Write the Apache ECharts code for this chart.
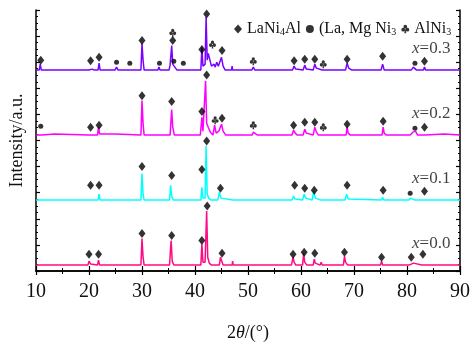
<!DOCTYPE html>
<html><head><meta charset="utf-8">
<script src="https://cdn.jsdelivr.net/npm/echarts@6/dist/echarts.min.js"></script>
<style>html,body{margin:0;padding:0;background:#fff}#c{width:473px;height:347px}</style>
</head><body><div id="c"></div>
<script>
// sample labels, vertical stacking offsets (a.u.), colours
const sampleLabels = ['0.3', '0.2', '0.1', '0.0'];
const offsets = [204, 138, 72, 6];
const colors = ['#7a00ff', '#ff00ff', '#00ffff', '#ff0a84'];

// XRD traces: [2theta, intensity above own baseline]
const trace03 = [[10,0],[10.6,0],[10.8,6],[11.0,0],[20.0,0],[20.3,2],[20.6,1],[21.0,0],[21.7,0],[21.9,7],[22.1,0],[24.9,0],[25.2,3],[25.5,0],[27.4,0],[27.6,2],[27.8,0],[29.8,0],[30.0,27],[30.2,10],[30.4,0],[33.0,0],[33.2,3],[33.4,0],[35.1,0],[35.3,5],[35.6,25],[35.8,6],[36.2,3],[36.6,0],[41.1,0],[41.3,23],[41.5,4],[41.9,6],[42.1,54],[42.3,10],[42.5,17],[42.8,15],[43.1,4],[43.6,6],[43.8,3],[44.1,8],[44.4,4],[44.7,6],[45.0,13],[45.3,4],[45.7,0],[46.9,0],[47.0,4],[47.1,0],[50.7,0],[51.0,3],[51.3,0],[58.4,0],[58.7,4],[59.0,1],[59.3,0],[60.4,0],[60.7,5],[61.0,1],[61.3,0],[62.3,0],[62.6,6],[62.9,2],[63.2,0],[64.0,0],[64.3,2],[64.6,0],[68.4,0],[68.7,7],[69.0,2],[69.3,3],[69.6,0],[75.1,0],[75.4,6],[75.7,0],[76.5,0],[76.7,2],[76.9,0],[80.8,0],[81.2,3],[81.5,4],[81.8,0],[83.1,0],[83.3,3],[83.5,0],[90,0]];
const trace02 = [[10,0],[10.7,0],[10.9,2],[11.1,0],[13.5,1],[13.7,0],[19.9,0],[20.1,2],[20.3,0],[21.6,0],[21.8,8],[22.0,1],[22.3,0],[25.0,1],[25.2,0],[29.8,0],[30.0,35],[30.2,12],[30.4,0],[35.3,0],[35.6,26],[35.8,8],[36.1,0],[41.0,0],[41.3,18],[41.5,4],[41.8,4],[42.0,55],[42.2,12],[42.5,8],[42.9,3],[43.4,0],[43.7,10],[44.0,2],[44.5,4],[45.0,11],[45.3,4],[45.8,0],[50.8,0],[51.0,3],[51.3,1],[51.8,0],[58.3,0],[58.6,5],[58.9,2],[59.3,0],[60.4,0],[60.7,6],[61.0,2],[61.3,0],[62.3,0],[62.6,8],[62.9,3],[63.3,0],[63.9,0],[64.1,2],[64.3,0],[68.5,0],[68.7,8],[68.9,2],[69.3,0],[75.3,0],[75.5,8],[75.7,2],[76.1,0],[80.6,0],[81.1,3],[81.6,4],[82.0,0],[83.1,0],[83.3,2],[83.5,0],[87.0,1],[87.2,0],[90,0]];
const trace01 = [[10,0],[19.9,0],[20.1,2],[20.3,0],[21.7,0],[21.9,6],[22.1,0],[29.8,0],[30.0,27],[30.2,6],[30.4,0],[35.2,0],[35.4,15],[35.6,4],[35.9,0],[41.1,0],[41.3,13],[41.5,2],[41.9,2],[42.1,55],[42.3,6],[42.6,2],[43.0,0],[44.3,0],[44.6,8],[44.9,2],[45.2,0],[47.1,0],[47.3,2],[47.5,0],[58.3,0],[58.6,4],[58.9,1],[59.2,0],[60.3,0],[60.6,6],[60.9,2],[61.2,0],[62.1,0],[62.4,9],[62.7,2],[63.0,0],[63.8,0],[64.0,2],[64.2,0],[68.3,0],[68.6,6],[68.9,1],[69.2,0],[75.2,0],[75.4,3],[75.6,0],[80.3,0],[80.7,2],[81.1,1],[81.5,0],[83.0,0],[83.2,2],[83.4,0],[90,0]];
const trace00 = [[10,0],[19.8,0],[20.0,4],[20.3,1],[20.5,0],[21.6,0],[21.8,5],[22.0,0],[29.8,0],[30.0,27],[30.2,8],[30.4,0],[35.2,0],[35.4,18],[35.5,25],[35.7,4],[36.0,0],[41.1,0],[41.3,21],[41.5,3],[41.9,3],[42.2,55],[42.4,8],[42.7,2],[43.1,0],[44.6,0],[44.8,8],[45.0,5],[45.3,0],[47.0,0],[47.1,4],[47.2,0],[58.2,0],[58.5,8],[58.7,3],[59.0,0],[60.3,0],[60.5,12],[60.7,3],[61.1,0],[62.3,0],[62.5,6],[62.7,2],[63.0,0],[63.6,0],[63.8,3],[64.0,0],[68.0,0],[68.2,9],[68.4,3],[68.8,0],[75.0,0],[75.2,4],[75.4,0],[80.4,0],[80.7,2],[81.2,2],[81.5,0],[82.8,0],[83.0,2],[83.2,0],[90,0]];
const traces = [trace03, trace02, trace01, trace00];

// phase markers: [2theta, height above baseline]
const diamonds03 = [[10.9,10],[20.3,9.5],[21.9,13],[30.0,30],[35.8,30],[41.3,21],[42.2,57],[45.1,20],[58.7,9.5],[60.7,11],[62.6,11],[68.7,11],[75.4,14],[83.3,9]];
const circles03 = [[25.2,8],[27.7,7],[33.3,7],[36.0,9],[37.8,7],[81.5,7]];
const clubs03 = [[35.8,38],[43.3,26],[51.0,9],[64.2,6]];
const diamonds02 = [[20.3,8],[21.9,10],[30.0,40],[35.6,34],[41.3,24],[42.2,61],[45.1,17],[58.6,10],[60.7,13],[62.6,13],[68.7,11],[75.5,14],[83.3,8]];
const circles02 = [[10.9,9],[81.5,7]];
const clubs02 = [[43.8,15],[51.0,10],[64.2,8]];
const diamonds01 = [[20.3,15],[21.9,15],[30.0,34],[35.6,25],[41.3,31],[42.2,60],[44.8,12],[58.8,15],[60.7,12],[62.5,10],[68.7,15],[75.5,10],[83.3,9]];
const circles01 = [[80.6,7]];
const clubs01 = [];
const diamonds00 = [[20.0,11],[21.8,11],[30.0,32],[35.6,30],[41.3,25],[42.3,60],[45.1,12],[58.5,11],[60.6,13],[62.6,12],[68.2,13],[75.2,8],[80.8,8],[83.0,11]];
const circles00 = [];
const clubs00 = [];
const diamondSets = [diamonds03, diamonds02, diamonds01, diamonds00];
const circleSets = [circles03, circles02, circles01, circles00];
const clubSets = [clubs03, clubs02, clubs01, clubs00];

const phaseNames = ['LaNi4Al', '(La, Mg Ni3', 'AlNi3'];
const phaseRich = ['{n|LaNi}{s|4}{n|Al}', '{n|(La, Mg Ni}{s|3}', '{n|AlNi}{s|3}'];
const xTicks = [10, 20, 30, 40, 50, 60, 70, 80, 90];

const clubPath = 'path://M28,25a22,22 0 1,0 44,0a22,22 0 1,0 -44,0ZM3,60a22,22 0 1,0 44,0a22,22 0 1,0 -44,0ZM53,60a22,22 0 1,0 44,0a22,22 0 1,0 -44,0ZM50,45L38,100L62,100Z';

function shift(arr, off) { return arr.map(p => [p[0], p[1] + off]); }
function gather(sets) { let out = []; sets.forEach((s, i) => { out = out.concat(shift(s, offsets[i])); }); return out; }

const FONT = 'Liberation Serif';
const series = [];
traces.forEach((t, i) => {
  series.push({
    type: 'line', name: 'x' + sampleLabels[i], data: shift(t, offsets[i]),
    showSymbol: false, symbol: 'none', silent: true,
    lineStyle: { color: colors[i], width: 1.5 }, z: 2
  });
});
const markerStyle = { color: '#000' };
series.push({ type: 'scatter', name: phaseNames[0], data: gather(diamondSets), symbol: 'diamond', symbolSize: [7, 9], itemStyle: markerStyle, z: 5 });
series.push({ type: 'scatter', name: phaseNames[1], data: gather(circleSets), symbol: 'circle', symbolSize: 5, itemStyle: markerStyle, z: 5 });
series.push({ type: 'scatter', name: phaseNames[2], data: gather(clubSets), symbol: clubPath, symbolSize: [7, 8], itemStyle: markerStyle, z: 5 });
series.push({
  type: 'scatter', name: 'labels', symbolSize: 0, silent: true,
  data: sampleLabels.map((s, i) => ({ value: [88.2, offsets[i] + 22], lab: s })),
  label: {
    show: true, position: 'left', distance: 0,
    formatter: p => '{i|x}{n|=' + p.data.lab + '}',
    rich: {
      i: { fontFamily: FONT, fontSize: 17, fontStyle: 'italic', color: '#111' },
      n: { fontFamily: FONT, fontSize: 17, color: '#111' }
    }
  }
});

const axisLine = { show: true, lineStyle: { color: '#000', width: 1.5 } };
const option = {
  animation: false,
  backgroundColor: '#fff',
  grid: { left: 35, right: 11, top: 10, bottom: 72 },
  legend: {
    data: phaseNames, left: 229, top: 16, itemWidth: 8, itemHeight: 9, itemGap: 5,
    selectedMode: false,
    formatter: name => phaseRich[phaseNames.indexOf(name)],
    textStyle: {
      color: '#111',
      rich: {
        n: { fontFamily: FONT, fontSize: 16, color: '#111' },
        s: { fontFamily: FONT, fontSize: 10, color: '#111', padding: [6, 0, 0, 0] }
      }
    }
  },
  xAxis: [{
    type: 'value', min: 10, max: 90, interval: 10,
    axisLine: axisLine,
    axisTick: { show: true, inside: true, length: 5, lineStyle: { color: '#000', width: 1.2 } },
    minorTick: { show: true, splitNumber: 2, length: 3, lineStyle: { color: '#000', width: 1 } },
    splitLine: { show: false },
    axisLabel: { fontFamily: FONT, fontSize: 20, color: '#111', margin: 11,
      formatter: v => xTicks.indexOf(v) >= 0 ? String(v) : '' },
    name: '2{i|θ}/(°)', nameLocation: 'middle', nameGap: 53,
    nameTextStyle: { fontFamily: FONT, fontSize: 18, color: '#111',
      rich: { i: { fontFamily: FONT, fontSize: 18, fontStyle: 'italic', color: '#111' } } }
  }, {
    type: 'value', min: 10, max: 90, interval: 10, position: 'top',
    axisLine: axisLine,
    axisTick: { show: true, inside: true, length: 4, lineStyle: { color: '#000', width: 1.2 } },
    minorTick: { show: true, splitNumber: 2, length: 3, lineStyle: { color: '#000' } },
    axisLabel: { show: false }, splitLine: { show: false }
  }],
  yAxis: [{
    type: 'value', min: 0, max: 265, interval: 26.5,
    axisLine: axisLine,
    axisTick: { show: true, inside: true, length: 4, lineStyle: { color: '#000', width: 1.2 } },
    minorTick: { show: true, splitNumber: 4, length: 2, lineStyle: { color: '#000' } },
    axisLabel: { show: false }, splitLine: { show: false },
    name: 'Intensity/a.u.', nameLocation: 'middle', nameGap: 10,
    nameTextStyle: { fontFamily: FONT, fontSize: 18, color: '#111' }
  }, {
    type: 'value', min: 0, max: 265, interval: 26.5, position: 'right',
    axisLine: axisLine,
    axisTick: { show: true, inside: true, length: 4, lineStyle: { color: '#000', width: 1.2 } },
    minorTick: { show: true, splitNumber: 4, length: 2, lineStyle: { color: '#000' } },
    axisLabel: { show: false }, splitLine: { show: false }
  }],
  series: series
};
const chart = echarts.init(document.getElementById('c'), null, { renderer: 'canvas' });
chart.setOption(option);
</script>
</body></html>
